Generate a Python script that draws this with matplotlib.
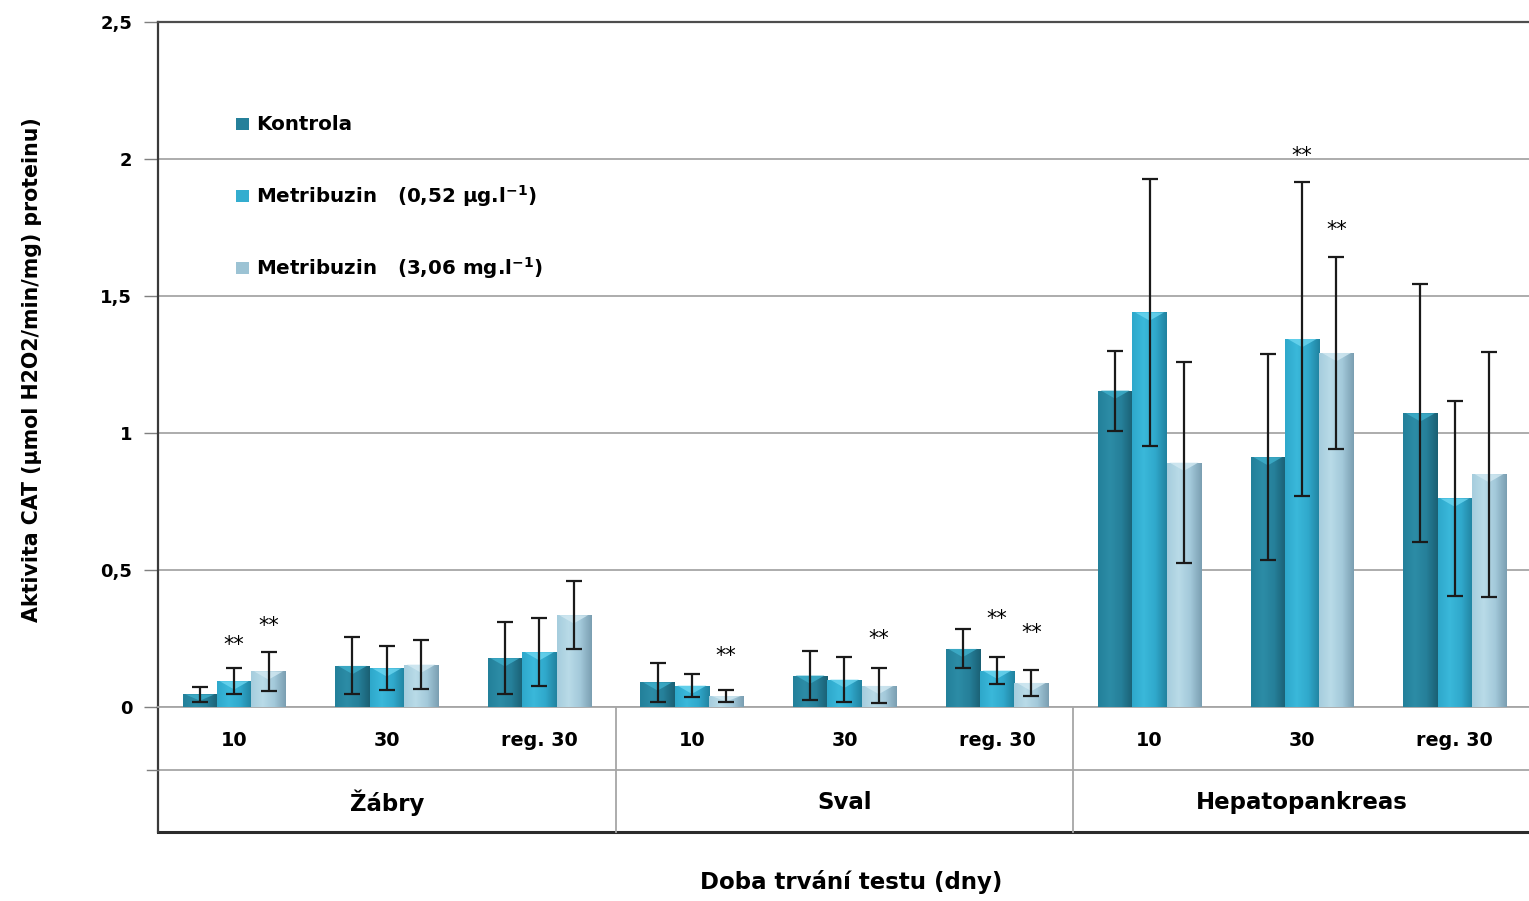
import matplotlib.pyplot as plt
import numpy as np
from matplotlib.colors import LinearSegmentedColormap
from matplotlib.patches import Rectangle, Polygon

plt.rcParams['font.family'] = ['DejaVu Sans']
plt.rcParams['font.weight'] = 'bold'
plt.rcParams['mathtext.fontset'] = 'custom'
plt.rcParams['mathtext.rm'] = 'DejaVu Sans:bold'
plt.rcParams['mathtext.default'] = 'rm'

# Dados
organy = ['Žábry', 'Sval', 'Hepatopankreas']
doby = ['10', '30', 'reg. 30', '10', '30', 'reg. 30', '10', '30', 'reg. 30']
serie = ['Kontrola',
         r'Metribuzin   (0,52 µg.l$^{\mathregular{-1}}$)',
         r'Metribuzin   (3,06 mg.l$^{\mathregular{-1}}$)']

kontrola = [0.046, 0.150, 0.178, 0.090, 0.115, 0.212, 1.155, 0.912, 1.072]
kontrola_sd = [0.028, 0.104, 0.132, 0.072, 0.089, 0.071, 0.146, 0.376, 0.470]
metri_nizka = [0.094, 0.141, 0.200, 0.078, 0.100, 0.133, 1.440, 1.343, 0.761]
metri_nizka_sd = [0.048, 0.080, 0.125, 0.043, 0.081, 0.049, 0.487, 0.573, 0.356]
metri_vysoka = [0.130, 0.155, 0.335, 0.040, 0.077, 0.088, 0.892, 1.292, 0.850]
metri_vysoka_sd = [0.071, 0.088, 0.124, 0.021, 0.064, 0.047, 0.366, 0.349, 0.447]

# hvezdicky: (index kategorie, index serie, vyska)
vyznamne = [(0, 1, 0.238), (0, 2, 0.306), (3, 2, 0.196), (4, 2, 0.259),
            (5, 1, 0.332), (5, 2, 0.279), (7, 1, 2.02), (7, 2, 1.75)]

hodnoty = [kontrola, metri_nizka, metri_vysoka]
chyby = [kontrola_sd, metri_nizka_sd, metri_vysoka_sd]

# gradienty barev (zleva doprava), svetla spicka navrchu
gradienty = [['#23809a', '#2c8ca6', '#26809a', '#1a6074'],
             ['#2ea8cb', '#3ab8da', '#30a9cc', '#2183a0'],
             ['#a6cddd', '#b9dbe8', '#a3c9da', '#7b9fb2']]
spicky = ['#3fb0cc', '#6cd6f0', '#d2e9f2']
barvy = ['#25809a', '#34adcf', '#9cc3d4']

fig = plt.figure(figsize=(15.29, 9.01), dpi=100)
ax = fig.add_axes([0.1033, 0.2153, 0.898, 0.7603])

x = np.arange(len(doby))
sirka = 0.225

for s in range(3):
    pozice = x + (s - 1) * sirka
    bars = ax.bar(pozice, hodnoty[s], sirka, color=barvy[s], label=serie[s], zorder=3)
    cmap = LinearSegmentedColormap.from_list('g%d' % s, gradienty[s])
    grad = np.linspace(0, 1, 64).reshape(1, -1)
    for b in bars:
        x0, w, h = b.get_x(), b.get_width(), b.get_height()
        im = ax.imshow(grad, cmap=cmap, aspect='auto', zorder=3.5,
                       extent=[x0, x0 + w, 0, h])
        im.set_clip_path(b)
        hs = min(0.03, h * 0.5)
        ax.add_patch(Polygon([[x0 + 0.08 * w, h], [x0 + 0.92 * w, h], [x0 + 0.5 * w, h - hs]],
                             closed=True, facecolor=spicky[s], edgecolor='none', alpha=0.8, zorder=3.6))
    ax.errorbar(pozice, hodnoty[s], yerr=chyby[s], fmt='none', ecolor='#1a1a1a',
                elinewidth=1.6, capsize=6, capthick=1.6, zorder=5)

for k, s, v in vyznamne:
    ax.text(x[k] + (s - 1) * sirka, v - 0.01, '**',
            ha='center', va='center', fontsize=15, fontweight='normal', zorder=6)

ax.set_xlim(-0.5, len(doby) - 0.5)
ax.set_ylim(0, 2.5)
ax.set_yticks([0, 0.5, 1, 1.5, 2, 2.5])
ax.set_yticklabels(['0', '0,5', '1', '1,5', '2', '2,5'], fontsize=13, fontweight='bold')
ax.yaxis.grid(True, color='#a6a6a6', linewidth=1.3, zorder=0)
ax.set_axisbelow(True)
ax.tick_params(axis='y', length=10, width=1, color='#7f7f7f', pad=8.5)
ax.set_xticks([])

ax.spines['right'].set_visible(False)
ax.spines['top'].set_color('#4d4d4d')
ax.spines['top'].set_linewidth(1.6)
ax.spines['left'].set_color('#3a3a3a')
ax.spines['left'].set_linewidth(1.6)
ax.spines['bottom'].set_color('#a6a6a6')
ax.spines['bottom'].set_linewidth(1.3)

# tabulka pod osou
tr = ax.get_xaxis_transform()
radek1 = -0.092
radek2 = -0.1825
ax.plot([-0.5, 8.6], [radek1, radek1], color='#a6a6a6', lw=1.3, transform=tr, clip_on=False)
ax.plot([-0.5, 8.6], [radek2, radek2], color='#2b2b2b', lw=2.2, transform=tr, clip_on=False)
ax.plot([-0.5, -0.5], [0, radek2], color='#3a3a3a', lw=1.6, transform=tr, clip_on=False)
for xs in [2.5, 5.5]:
    ax.plot([xs, xs], [0, radek2], color='#a6a6a6', lw=1.3, transform=tr, clip_on=False)
ax.plot([-0.5, -0.57], [radek1, radek1], color='#7f7f7f', lw=1, transform=tr, clip_on=False)

for i, d in enumerate(doby):
    ax.text(i, -0.0496, d, ha='center', va='center', fontsize=13.8, fontweight='bold', transform=tr)
for j, o in enumerate(organy):
    ax.text(3 * j + 1, -0.140, o, ha='center', va='center', fontsize=16.5, fontweight='bold', transform=tr)

fig.text(0.557, 0.021, 'Doba trvání testu (dny)', ha='center', va='center', fontsize=16.5, fontweight='bold')
fig.text(0.021, 0.59, 'Aktivita CAT (µmol H2O2/min/mg) proteinu)', ha='center', va='center',
         rotation=90, fontsize=14.8, fontweight='bold')

# legenda
leg_y = [0.851, 0.746, 0.641]
for s in range(3):
    ax.add_patch(Rectangle((0.0565, leg_y[s] - 0.009), 0.0095, 0.018, transform=ax.transAxes,
                           facecolor=barvy[s], edgecolor='none', zorder=6))
    ax.text(0.0715, leg_y[s], serie[s], transform=ax.transAxes, ha='left', va='center',
            fontsize=14.3, fontweight='bold', zorder=6)

fig.savefig('out.png', dpi=100)
